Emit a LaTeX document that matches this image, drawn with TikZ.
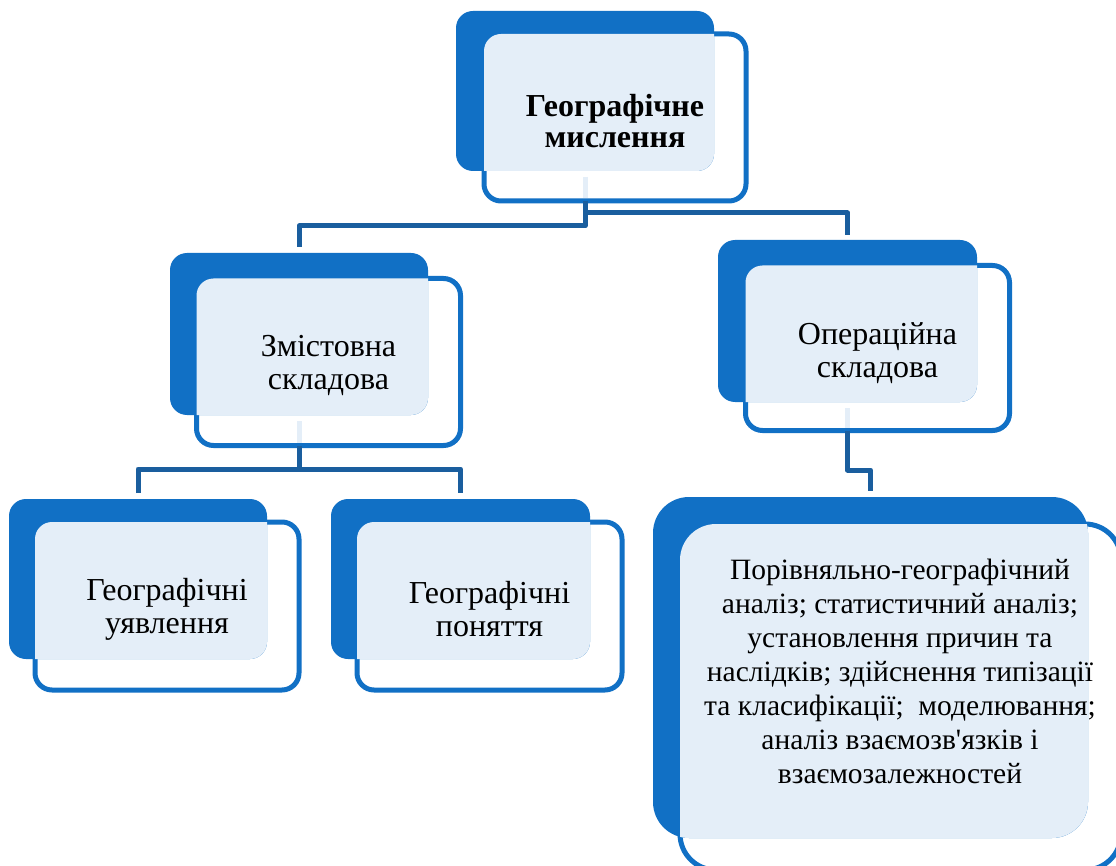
\documentclass[tikz,border=0pt]{standalone}
\usepackage{fontspec}
\newfontfamily\uaf{Liberation Serif}
\definecolor{boxblue}{HTML}{1170C5}
\definecolor{connblue}{HTML}{1A5E9E}
\definecolor{lightfill}{HTML}{E4EEF8}
\tikzset{
  darkbox/.style={fill=boxblue, draw=none, outer sep=0pt, inner sep=0pt},
  frontbox/.style={fill=white, draw=boxblue, line width=5pt, outer sep=0pt, inner sep=0pt},
  conn/.style={draw=connblue, line width=5pt, line join=round},
  lightseg/.style={draw=lightfill, line width=5pt},
  txt/.style={align=center, text=black, inner sep=0pt},
  plain/.style={font=\uaf\fontsize{32}{33}\selectfont},
  bigtxt/.style={font=\uaf\fontsize{29.5}{34}\selectfont},
  title/.style={font=\uaf\fontsize{32}{31}\selectfont\bfseries}
}
\newcommand\boxpair[8]{%
  \node[frontbox, minimum width=#6pt, minimum height=#7pt, rounded corners=#8pt] (#1f) at (#5) {};
  \node[darkbox, minimum width=#3pt, minimum height=#4pt, rounded corners=#8pt] (#1d) at (#2) {};
  \begin{scope}
    \clip[rounded corners=#8pt] (#1d.north west) rectangle (#1d.south east);
    \fill[lightfill, rounded corners=#8pt] (#1f.north west) rectangle (#1f.south east);
  \end{scope}}
\begin{document}
\begin{tikzpicture}[x=1pt,y=-1pt]
\useasboundingbox (0,0) rectangle (1116,866);
\clip (0,0) rectangle (1116,866);
\fill[white] (0,0) rectangle (1116,866);
% boxes
\boxpair{b1}{585,91}{258}{160}{615,117.5}{262}{167}{17}
\boxpair{b2}{299,334}{258}{162}{328.5,362}{264}{167}{17}
\boxpair{b3}{847.5,321}{259}{162}{877.5,348}{264}{165}{17}
\boxpair{b4}{138,579}{258}{160}{167,606}{264}{168}{17}
\boxpair{b5}{460.5,579}{259}{160}{489.5,606}{265}{168}{17}
\boxpair{b6}{870.5,667.5}{435}{341}{900.5,697}{441}{346}{36}
% light segments
\draw[lightseg] ([yshift=-6pt]b1d.south) -- ([yshift=2.5pt]b1d.south |- b1f.south);
\draw[lightseg] ([yshift=-6pt]b2d.south) -- ([yshift=2.5pt]b2d.south |- b2f.south);
\draw[lightseg] ([yshift=-6pt]b3d.south) -- ([yshift=2.5pt]b3d.south |- b3f.south);
% connector junctions
\coordinate (j1) at (585,213);
\coordinate (j2) at (585,226);
\coordinate (j3) at (299,469);
\coordinate (j4) at (847.5,470);
\coordinate (e2) at ([yshift=6pt]b2d.north);
\coordinate (e3) at ([yshift=5pt]b3d.north);
\coordinate (e4) at ([yshift=6pt]b4d.north);
\coordinate (e5) at ([yshift=6pt]b5d.north);
\coordinate (e6) at ([yshift=6pt]b6d.north);
% connectors
\draw[conn] (b1d.south |- b1f.south) -- (j2) -| (e2);
\draw[conn] (j1) -| (e3);
\draw[conn] (b2d.south |- b2f.south) -- (j3);
\draw[conn] (e4) |- (j3) -| (e5);
\draw[conn] (b3d.south |- b3f.south) -- (j4) -| (e6);
% texts
\node[txt, title] (t1) at (615,121) {Географічне\\мислення};
\node[txt, plain] (t2) at (328.5,365) {Змістовна\\складова};
\node[txt, plain] (t3) at (877.5,353) {Операційна\\складова};
\node[txt, plain] (t4) at (167,609) {Географічні\\уявлення};
\node[txt, plain] (t5) at (489.5,609) {Географічні\\поняття};
\node[txt, bigtxt] (t6) at (900,671) {Порівняльно-географічний\\аналіз; статистичний аналіз;\\установлення причин та\\наслідків; здійснення типізації\\та класифікації;\ \ моделювання;\\аналіз взаємозв'язків і\\взаємозалежностей};
\end{tikzpicture}
\end{document}
